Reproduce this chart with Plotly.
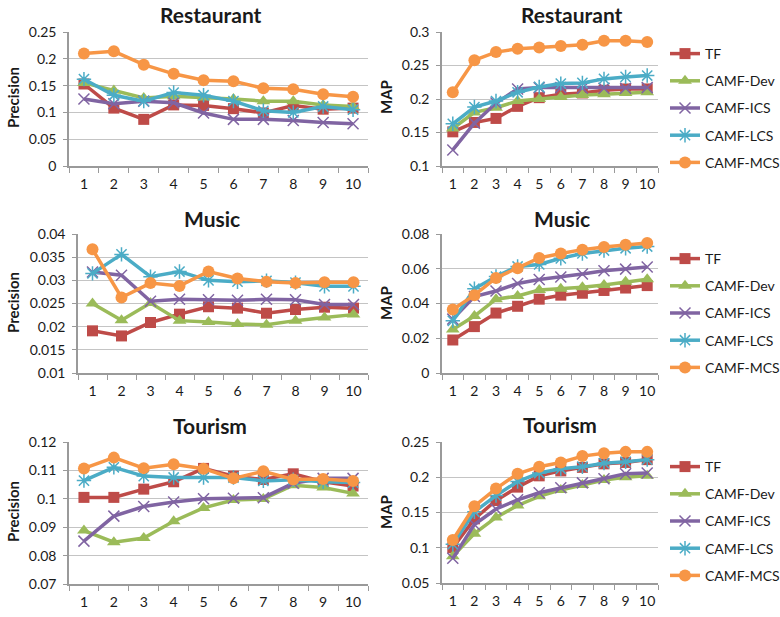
import plotly.graph_objects as go

# Top-N cut-offs on the x axis
TOP_N = ["1", "2", "3", "4", "5", "6", "7", "8", "9", "10"]
METHODS = ["TF", "CAMF-Dev", "CAMF-ICS", "CAMF-LCS", "CAMF-MCS"]

# Restaurant
rest_prec = {
    "TF":       [0.153, 0.108, 0.087, 0.114, 0.113, 0.107, 0.099, 0.113, 0.106, 0.108],
    "CAMF-Dev": [0.155, 0.141, 0.127, 0.130, 0.128, 0.125, 0.121, 0.121, 0.114, 0.111],
    "CAMF-ICS": [0.125, 0.116, 0.121, 0.118, 0.099, 0.087, 0.087, 0.085, 0.081, 0.079],
    "CAMF-LCS": [0.162, 0.132, 0.121, 0.137, 0.132, 0.121, 0.103, 0.100, 0.111, 0.105],
    "CAMF-MCS": [0.210, 0.214, 0.189, 0.172, 0.160, 0.158, 0.145, 0.143, 0.134, 0.129],
}
rest_map = {
    "TF":       [0.151, 0.165, 0.171, 0.189, 0.202, 0.207, 0.209, 0.213, 0.215, 0.215],
    "CAMF-Dev": [0.156, 0.180, 0.187, 0.197, 0.200, 0.203, 0.206, 0.207, 0.209, 0.210],
    "CAMF-ICS": [0.124, 0.164, 0.194, 0.215, 0.217, 0.217, 0.216, 0.216, 0.216, 0.217],
    "CAMF-LCS": [0.163, 0.188, 0.197, 0.210, 0.218, 0.223, 0.224, 0.230, 0.233, 0.235],
    "CAMF-MCS": [0.210, 0.258, 0.270, 0.275, 0.277, 0.279, 0.281, 0.287, 0.287, 0.285],
}

# Music
music_prec = {
    "TF":       [0.0191, 0.0180, 0.0209, 0.0227, 0.0243, 0.0240, 0.0229, 0.0237, 0.0242, 0.0240],
    "CAMF-Dev": [0.0250, 0.0214, 0.0251, 0.0213, 0.0210, 0.0206, 0.0204, 0.0213, 0.0220, 0.0226],
    "CAMF-ICS": [0.0318, 0.0311, 0.0255, 0.0259, 0.0258, 0.0257, 0.0259, 0.0258, 0.0248, 0.0248],
    "CAMF-LCS": [0.0315, 0.0356, 0.0308, 0.0319, 0.0300, 0.0297, 0.0299, 0.0295, 0.0287, 0.0287],
    "CAMF-MCS": [0.0367, 0.0263, 0.0294, 0.0288, 0.0319, 0.0304, 0.0297, 0.0294, 0.0296, 0.0296],
}
music_map = {
    "TF":       [0.0190, 0.0267, 0.0345, 0.0384, 0.0425, 0.0448, 0.0459, 0.0475, 0.0489, 0.0503],
    "CAMF-Dev": [0.0250, 0.0328, 0.0425, 0.0443, 0.0478, 0.0485, 0.0493, 0.0507, 0.0525, 0.0540],
    "CAMF-ICS": [0.0310, 0.0440, 0.0472, 0.0515, 0.0538, 0.0553, 0.0570, 0.0588, 0.0598, 0.0610],
    "CAMF-LCS": [0.0300, 0.0485, 0.0555, 0.0613, 0.0625, 0.0660, 0.0688, 0.0705, 0.0718, 0.0728],
    "CAMF-MCS": [0.0365, 0.0448, 0.0547, 0.0603, 0.0662, 0.0688, 0.0710, 0.0725, 0.0738, 0.0748],
}

# Tourism
tour_prec = {
    "TF":       [0.1005, 0.1005, 0.1034, 0.1060, 0.1107, 0.1080, 0.1068, 0.1088, 0.1060, 0.1045],
    "CAMF-Dev": [0.0888, 0.0847, 0.0862, 0.0921, 0.0968, 0.0996, 0.0999, 0.1048, 0.1040, 0.1019],
    "CAMF-ICS": [0.0851, 0.0939, 0.0973, 0.0989, 0.1000, 0.1002, 0.1004, 0.1055, 0.1072, 0.1072],
    "CAMF-LCS": [0.1064, 0.1111, 0.1080, 0.1075, 0.1075, 0.1075, 0.1063, 0.1067, 0.1060, 0.1057],
    "CAMF-MCS": [0.1107, 0.1145, 0.1108, 0.1122, 0.1106, 0.1072, 0.1097, 0.1068, 0.1070, 0.1063],
}
tour_map = {
    "TF":       [0.100, 0.141, 0.167, 0.186, 0.202, 0.209, 0.214, 0.219, 0.221, 0.225],
    "CAMF-Dev": [0.088, 0.120, 0.143, 0.160, 0.173, 0.182, 0.189, 0.196, 0.200, 0.202],
    "CAMF-ICS": [0.085, 0.133, 0.155, 0.168, 0.178, 0.185, 0.192, 0.198, 0.205, 0.206],
    "CAMF-LCS": [0.105, 0.151, 0.174, 0.194, 0.206, 0.212, 0.215, 0.220, 0.222, 0.225],
    "CAMF-MCS": [0.111, 0.159, 0.184, 0.205, 0.215, 0.221, 0.230, 0.234, 0.236, 0.236],
}

STYLE = {
    "TF":       dict(color="#BE4B48", symbol="square", size=11, lw=0),
    "CAMF-Dev": dict(color="#9BBB59", symbol="triangle-up", size=12, lw=0),
    "CAMF-ICS": dict(color="#8064A2", symbol="x-thin-open", size=11, lw=1.5),
    "CAMF-LCS": dict(color="#4BACC6", symbol="asterisk-open", size=12, lw=1.5),
    "CAMF-MCS": dict(color="#F79646", symbol="circle", size=12, lw=0),
}

W, H = 780, 617
FONT = "Lato, 'Open Sans', sans-serif"
TXT = "#1a1a1a"


def px_x(p):
    return p / W


def px_y(p):
    return 1 - p / H


# panel: data, y range, dtick, x px span, y px span, column index
panels = [
    (rest_prec, [0, 0.25], 0.05, (69, 368), (32, 166), 0),
    (rest_map, [0.1, 0.3], 0.05, (442, 658), (32, 166), 1),
    (music_prec, [0.01, 0.04], 0.005, (78, 368), (234, 373), 0),
    (music_map, [0, 0.08], 0.02, (442, 658), (234, 373), 1),
    (tour_prec, [0.07, 0.12], 0.01, (69, 368), (442, 584), 0),
    (tour_map, [0.05, 0.25], 0.05, (442, 658), (442, 583), 1),
]

fig = go.Figure()
layout = {}
legend_tops = [38, 243, 451]
legend_names = ["legend", "legend2", "legend3"]

for i, (data, yr, dt, xs, ys, col) in enumerate(panels):
    n = i + 1
    xa = "x" if n == 1 else f"x{n}"
    ya = "y" if n == 1 else f"y{n}"
    row = i // 2
    for m in METHODS:
        st = STYLE[m]
        marker = dict(symbol=st["symbol"], size=st["size"], color=st["color"])
        marker["line"] = dict(color=st["color"], width=st["lw"])
        fig.add_trace(go.Scatter(
            x=TOP_N, y=data[m], name=m, mode="lines+markers",
            line=dict(color=st["color"], width=3.5),
            marker=marker, xaxis=xa, yaxis=ya,
            showlegend=(col == 1), legend=legend_names[row],
            legendgroup=f"{m}{row}",
        ))
    layout["xaxis" if n == 1 else f"xaxis{n}"] = dict(
        domain=[px_x(xs[0]), px_x(xs[1])], anchor=ya, type="category",
        range=[-0.5, 9.5], tickson="boundaries", ticks="outside", ticklen=5,
        tickcolor="#9a9a9a", showline=True, linecolor="#9a9a9a", linewidth=1.5,
        showgrid=False, tickangle=0, ticklabelstandoff=4,
        tickfont=dict(size=14, color=TXT, family=FONT),
    )
    layout["yaxis" if n == 1 else f"yaxis{n}"] = dict(
        domain=[px_y(ys[1]), px_y(ys[0])], anchor=xa, range=yr, dtick=dt,
        tick0=yr[0], ticks="outside", ticklen=4, tickcolor="#9a9a9a",
        showline=True, linecolor="#9a9a9a", linewidth=1.5,
        showgrid=True, gridcolor="#c4c4c4", gridwidth=1.2, zeroline=False,
        ticklabelstandoff=4,
        tickfont=dict(size=14, color=TXT, family=FONT),
    )

for row, top in enumerate(legend_tops):
    layout[legend_names[row]] = dict(
        x=px_x(665), y=px_y(top), xanchor="left", yanchor="top",
        traceorder="grouped", tracegroupgap=6, itemwidth=30,
        font=dict(size=14, color=TXT, family=FONT), bgcolor="rgba(0,0,0,0)",
    )

annotations = []
titles = [("Restaurant", 211, 14), ("Restaurant", 572, 14),
          ("Music", 212, 218), ("Music", 562, 218),
          ("Tourism", 210, 425), ("Tourism", 560, 424)]
for t, x, y in titles:
    annotations.append(dict(text=f"<b>{t}</b>", x=px_x(x), y=px_y(y),
                            xref="paper", yref="paper", showarrow=False,
                            xanchor="center", yanchor="middle",
                            font=dict(size=21, color=TXT, family=FONT)))
for t, x, y in [("Precision", 13, 98), ("MAP", 386, 97),
                ("Precision", 13, 303), ("MAP", 386, 303),
                ("Precision", 13, 512), ("MAP", 386, 512)]:
    annotations.append(dict(text=f"<b>{t}</b>", x=px_x(x), y=px_y(y),
                            xref="paper", yref="paper", showarrow=False,
                            xanchor="center", yanchor="middle",
                            textangle=-90,
                            font=dict(size=15, color=TXT, family=FONT)))

fig.update_layout(
    width=W, height=H, margin=dict(l=0, r=0, t=0, b=0, autoexpand=False),
    paper_bgcolor="white", plot_bgcolor="white",
    annotations=annotations, font=dict(family=FONT, color=TXT),
    **layout,
)

fig.write_html("out.html")
